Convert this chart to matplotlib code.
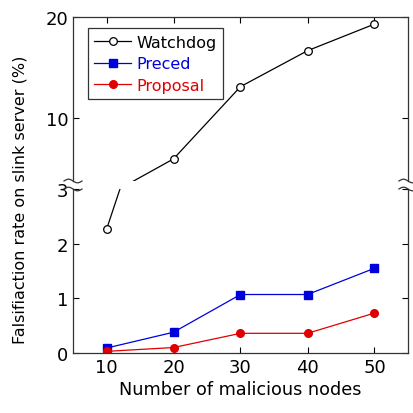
import numpy as np
import matplotlib
matplotlib.use("Agg")
import matplotlib.pyplot as plt
from matplotlib.lines import Line2D

# Data
nodes = [10, 20, 30, 40, 50]
watchdog = [2.26, 5.94, 13.1, 16.66, 19.3]
preced = [0.09, 0.38, 1.07, 1.07, 1.55]
proposal = [0.03, 0.10, 0.36, 0.36, 0.73]

x_ticks = [10, 20, 30, 40, 50]
low_ticks = [0, 1, 2, 3]
high_ticks = [10, 20]

plt.rcParams['font.family'] = ['DejaVu Sans']
plt.rcParams['font.size'] = 11.5

W = 414.0
fig = plt.figure(figsize=(4.14, 4.14), dpi=100)

left = 73 / W
width = 335 / W
ax_lo = fig.add_axes([left, 1 - 354 / W, width, 164 / W])
ax_hi = fig.add_axes([left, 1 - 182 / W, width, 164 / W])

blue = '#0000dd'
red = '#e00000'

for ax in (ax_lo, ax_hi):
    ax.plot(nodes, watchdog, color='black', lw=0.9, marker='o', ms=5.5,
            mfc='white', mec='black', mew=0.9, label='Watchdog')
    ax.plot(nodes, preced, color=blue, lw=0.9, marker='s', ms=5.5,
            mfc=blue, mec=blue, label='Preced')
    ax.plot(nodes, proposal, color=red, lw=0.9, marker='o', ms=5.5,
            mfc=red, mec=red, label='Proposal')
    ax.set_xlim(5, 55)
    ax.set_xticks(x_ticks)
    ax.tick_params(direction='in', length=4, width=0.8, top=True, right=True,
                   labelsize=13)
    for s in ax.spines.values():
        s.set_linewidth(0.9)
        s.set_color('#333333')

ax_lo.set_ylim(0, 3.0)
ax_lo.set_yticks(low_ticks)
ax_lo.spines['top'].set_visible(False)
ax_lo.tick_params(top=False)
ax_lo.set_xlabel('Number of malicious nodes', labelpad=3, fontsize=12.7)

ax_hi.set_ylim(3.75, 20)
ax_hi.set_yticks(high_ticks)
ax_hi.spines['bottom'].set_visible(False)
ax_hi.tick_params(bottom=False, labelbottom=False)

fig.text(20 / W, 1 - 200 / W, 'Falsifiaction rate on slink server (%)',
         rotation=90, va='center', ha='center', fontsize=11.5)

# legend with coloured texts
leg = ax_hi.legend(loc='upper left', bbox_to_anchor=(0.045, 0.93),
                   fancybox=False, edgecolor='#333333', framealpha=1,
                   handlelength=2.3, handletextpad=0.3, borderpad=0.4,
                   labelspacing=0.4, borderaxespad=0)
leg.get_frame().set_linewidth(0.9)
for txt, c in zip(leg.get_texts(), ['black', blue, red]):
    txt.set_color(c)

# axis break marks on both spines
def wave(xc, yc):
    t = np.linspace(-1, 1, 30)
    xs = xc + t * 9
    ys = yc + 1.8 * np.sin(t * np.pi)
    return xs / W, 1 - ys / W

for xc in (73, 408):
    for yc in (182, 190):
        xs, ys = wave(xc, yc)
        fig.add_artist(Line2D(xs, ys, color='#333333', lw=0.9))

fig.savefig('out.png', dpi=100, facecolor='white')
